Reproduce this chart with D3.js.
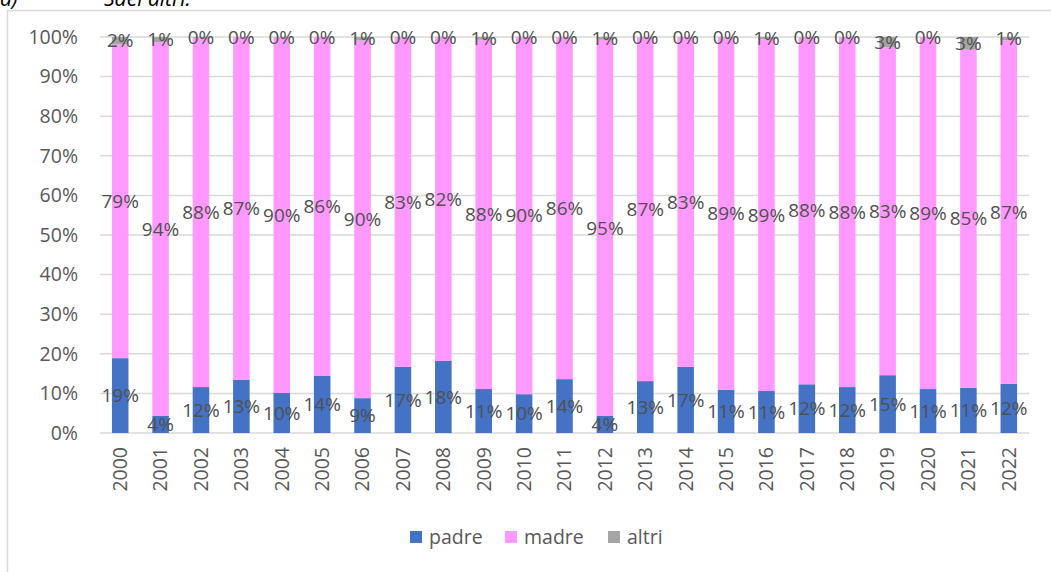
<!DOCTYPE html>
<html>
<head>
<meta charset="utf-8">
<script src="https://cdn.jsdelivr.net/npm/d3@7"></script>
<style>
  body { margin: 0; background: #fff; }
  svg text { font-family: "Open Sans", "Noto Sans", sans-serif; }
</style>
</head>
<body>
<svg id="chart" width="1051" height="572"></svg>
<script>
var years = ["2000","2001","2002","2003","2004","2005","2006","2007","2008","2009","2010","2011",
             "2012","2013","2014","2015","2016","2017","2018","2019","2020","2021","2022"];
// shares in percent
var padre = [18.9, 4.3, 11.6, 13.4, 10.1, 14.4, 8.8, 16.7, 18.2, 11.1, 9.8, 13.6,
             4.3, 13.1, 16.7, 10.9, 10.6, 12.3, 11.6, 14.6, 11.1, 11.4, 12.4];
var madre = [79.2, 94.4, 88.2, 86.6, 89.8, 85.6, 90.3, 83.2, 81.7, 88.2, 90.1, 86.3,
             95.0, 86.8, 83.2, 89.0, 88.8, 87.6, 88.3, 82.8, 88.8, 85.4, 86.8];
var altri = [1.9, 1.3, 0.2, 0.0, 0.1, 0.0, 0.9, 0.1, 0.1, 0.7, 0.1, 0.1,
             0.7, 0.1, 0.1, 0.1, 0.6, 0.1, 0.1, 2.6, 0.1, 3.2, 0.8];
var yTicks = [0, 10, 20, 30, 40, 50, 60, 70, 80, 90, 100];
var seriesNames = ["padre", "madre", "altri"];
var colors = ["#4472C4", "#FF99FF", "#A5A5A5"];

var svg = d3.select("#chart");

// frame + heading of the page (cut by the top edge, as in the screenshot)
svg.append("rect")
    .attr("x", 7.5).attr("y", 10.5)
    .attr("width", 1200).attr("height", 800)
    .attr("fill", "none").attr("stroke", "#d9d9d9").attr("stroke-width", 1.5);
svg.append("text").attr("x", 0).attr("y", 6)
    .style("font-size", "21px").style("font-style", "italic").attr("fill", "#000")
    .text("a)");
svg.append("text").attr("x", 104).attr("y", 6)
    .style("font-size", "21px").style("font-style", "italic").attr("fill", "#000")
    .text("Sdel altri:");

var margin = {left: 100, right: 22, top: 37, bottom: 139};
var width = 1051 - margin.left - margin.right,
    height = 572 - margin.top - margin.bottom;

var g = svg.append("g").attr("transform", "translate(" + margin.left + "," + margin.top + ")");

var x = d3.scaleBand().domain(years).range([0, width]).paddingInner(0.59).paddingOuter(0.295);
var y = d3.scaleLinear().domain([0, 100]).range([height, 0]);

// gridlines
g.append("g").selectAll("line")
    .data(yTicks)
  .enter().append("line")
    .attr("x1", 0).attr("x2", width)
    .attr("y1", function(d) { return y(d); })
    .attr("y2", function(d) { return y(d); })
    .attr("stroke", "#d9d9d9").attr("stroke-width", 1.5);

// y labels
g.append("g").selectAll("text")
    .data(yTicks)
  .enter().append("text")
    .attr("x", -22)
    .attr("y", function(d) { return y(d); })
    .attr("dy", "0.35em")
    .attr("text-anchor", "end")
    .attr("fill", "#595959")
    .style("font-size", "19.5px")
    .text(function(d) { return d + "%"; });

// stack the data
var rows = years.map(function(yr, i) {
  return {year: yr, padre: padre[i], madre: madre[i], altri: altri[i]};
});
var stack = d3.stack().keys(seriesNames)(rows);

var layer = g.append("g").selectAll("g")
    .data(stack)
  .enter().append("g")
    .attr("fill", function(d, i) { return colors[i]; });

layer.selectAll("rect")
    .data(function(d) { return d; })
  .enter().append("rect")
    .attr("x", function(d) { return x(d.data.year); })
    .attr("width", x.bandwidth())
    .attr("y", function(d) { return y(d[1]); })
    .attr("height", function(d) { return y(d[0]) - y(d[1]); });

// data labels, centred on each segment
var labels = g.append("g");
stack.forEach(function(s) {
  labels.selectAll(null)
      .data(s)
    .enter().append("text")
      .attr("x", function(d) { return x(d.data.year) + x.bandwidth() / 2; })
      .attr("y", function(d) { return y((d[0] + d[1]) / 2); })
      .attr("dy", "0.35em")
      .attr("text-anchor", "middle")
      .attr("fill", "#505050")
      .style("font-size", "19px")
      .text(function(d) { return Math.round(d[1] - d[0]) + "%"; });
});

// x labels (rotated)
g.append("g").selectAll("text")
    .data(years)
  .enter().append("text")
    .attr("transform", function(d) {
      return "translate(" + (x(d) + x.bandwidth() / 2) + "," + (height + 14) + ") rotate(-90)";
    })
    .attr("dy", "0.35em")
    .attr("text-anchor", "end")
    .attr("fill", "#595959")
    .style("font-size", "19.5px")
    .text(function(d) { return d; });

// legend
var legend = svg.append("g").attr("transform", "translate(410,537)");
var legX = [0, 95, 198];
seriesNames.forEach(function(name, i) {
  var lg = legend.append("g").attr("transform", "translate(" + legX[i] + ",0)");
  lg.append("rect").attr("x", 0).attr("y", -6).attr("width", 12).attr("height", 12).attr("fill", colors[i]);
  lg.append("text").attr("x", 19).attr("y", 0).attr("dy", "0.35em")
      .attr("fill", "#595959").style("font-size", "19.5px").text(name);
});
</script>
</body>
</html>
